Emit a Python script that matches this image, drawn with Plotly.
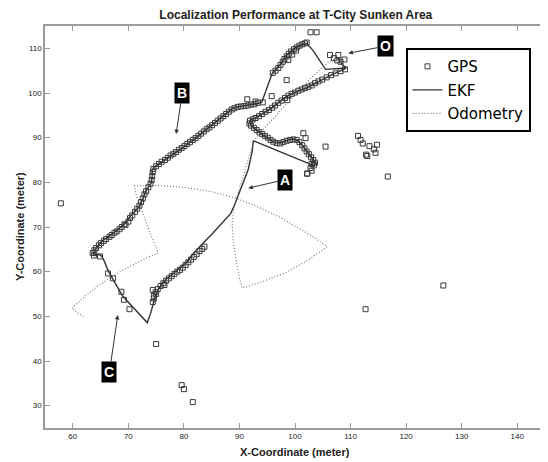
import plotly.graph_objects as go

# ---------------- data ----------------
ekf_x = [107.6, 108.4, 109.1, 106.5, 104.5, 103.3, 102.0, 100.8, 99.8, 99.0, 98.0, 97.2, 96.4, 95.5,
         94.6, 93.8, 92.8, 92.0, 91.8, 92.3, 93.2, 94.0, 95.0, 95.8, 96.6, 97.3, 98.2, 99.0, 99.8,
         100.6, 101.3, 102.0, 102.7, 103.2, 103.7, 103.5, 92.5, 92.3, 92.0, 91.6, 91.1, 90.4, 89.7,
         89.0, 88.4, 87.4, 86.4, 85.2, 84.0, 82.8, 81.6, 80.4, 79.0, 78.0, 76.8, 76.0, 75.2, 74.8,
         74.4, 74.0, 73.4, 72.4, 71.2, 70.0, 69.0, 68.2, 67.3, 66.4, 65.7, 65.2, 64.6, 63.9, 63.7,
         64.0, 64.6, 65.5, 66.5, 67.3, 68.3, 69.0, 69.8, 70.3, 71.2, 72.0, 72.6, 73.2, 74.1, 74.3,
         74.3, 74.6, 75.6, 77.4, 79.0, 80.4, 82.0, 83.4, 85.0, 86.4, 87.6, 88.7, 89.6, 90.6, 92.0,
         93.0, 94.0, 95.9, 96.5, 97.5, 98.3, 99.3, 100.2, 101.2, 102.1, 103.2, 104.3, 105.5, 109.2,
         108.3]
ekf_y = [108.0, 106.8, 105.5, 104.0, 102.7, 101.8, 101.1, 100.6, 100.0, 99.6, 98.8, 98.0, 97.2, 96.4,
         95.7, 95.0, 94.3, 94.0, 93.4, 92.5, 91.5, 90.8, 90.0, 89.3, 88.9, 88.8, 89.2, 89.6, 89.7,
         89.3, 88.3, 87.2, 86.1, 85.2, 84.4, 83.7, 89.3, 87.0, 85.0, 83.0, 81.3, 79.0, 76.9,
         74.6, 73.0, 71.6, 70.2, 68.6, 67.1, 65.6, 63.9, 62.0, 60.6, 59.7, 58.3, 57.3, 55.6, 54.2,
         52.4, 50.6, 48.6, 49.9, 51.6, 53.0, 54.5, 56.2, 58.0, 60.1, 62.3, 63.5, 63.9, 63.6, 64.0,
         65.0, 65.9, 67.1, 67.9, 68.6, 69.6, 70.4, 71.4, 72.4, 73.6, 74.6, 76.3, 78.2, 79.8, 81.5,
         82.8, 83.4, 84.2, 85.7, 87.1, 88.3, 89.8, 91.2, 92.8, 94.2, 95.5, 96.5, 96.9, 97.1, 97.3,
         97.6, 97.9, 104.4, 105.2, 106.6, 108.3, 109.4, 110.25, 110.8, 111.1, 109.6, 107.6, 105.3, 105.6,
         106.6]

odo_x = [108.0, 106.1, 104.3, 102.5, 100.4, 98.3, 96.1, 94.7, 93.4, 92.6, 92.0, 91.3, 90.6, 90.0,
         89.4, 88.9, 88.7, 88.9, 89.4, 89.9, 90.5, 94.0, 98.0, 102.0, 105.8, 103.5, 101.0, 97.1,
         93.0, 89.0, 85.0, 80.0, 75.5, 71.1, 71.4, 72.5, 73.8, 75.4, 72.8, 70.2, 68.2, 66.3,
         64.3, 62.3, 59.8, 61.9]
odo_y = [108.0, 107.0, 105.0, 102.9, 100.2, 97.3, 94.2, 92.5, 90.6, 89.3, 87.0, 84.0, 81.0, 78.5,
         76.2, 73.5, 70.5, 66.5, 62.5, 59.0, 56.3, 57.7, 59.6, 62.3, 65.6, 67.6, 69.5, 72.3,
         74.7, 76.6, 77.9, 78.9, 79.3, 79.2, 77.2, 73.3, 69.0, 64.2, 62.8, 61.1, 59.8, 58.3,
         56.6, 54.6, 51.8, 49.9]

gps_pts = [
    # upper-left edge (B)
    (63.8, 63.6), (63.6, 64.2), (63.9, 64.8), (64.2, 65.3), (64.7, 65.9), (65.1, 66.4), (65.6, 66.9),
    (66.0, 67.3), (66.6, 67.8), (67.0, 68.2), (67.5, 68.7), (67.9, 69.0), (68.4, 69.5), (68.8, 70.0),
    (69.3, 70.6), (69.5, 70.5), (70.0, 71.2), (70.3, 72.0), (70.7, 72.6), (71.2, 73.4), (71.6, 74.1),
    (72.0, 74.8), (72.3, 75.6), (72.6, 76.4), (72.9, 77.3), (73.2, 78.0), (73.6, 78.9), (74.0, 79.7),
    (74.2, 80.5), (74.3, 81.4), (74.4, 82.3), (74.5, 83.0), (75.0, 83.6), (75.5, 84.1), (76.0, 84.6),
    (76.6, 85.0), (77.1, 85.5), (77.6, 86.0), (78.1, 86.4), (78.6, 86.8), (79.1, 87.3), (79.6, 87.7),
    (80.1, 88.1), (80.6, 88.6), (81.1, 89.0), (81.6, 89.5), (82.1, 89.9), (82.6, 90.4), (83.1, 90.9),
    (83.6, 91.4), (84.1, 91.9), (84.6, 92.3), (85.1, 92.8), (85.6, 93.3), (86.1, 93.8), (86.6, 94.3),
    (87.1, 94.8), (87.6, 95.3), (88.1, 95.8), (88.6, 96.3), (89.1, 96.6), (89.7, 96.9), (90.3, 97.0),
    (90.9, 97.1), (91.5, 97.2), (92.1, 97.4), (92.7, 97.5), (93.3, 97.8), (91.4, 98.6), (92.9, 98.1),
    (94.2, 97.9), (95.8, 99.3), (98.6, 98.4), (98.5, 102.9),
    # strand up to the peak
    (96.0, 104.5), (96.5, 105.0), (97.0, 105.6), (97.4, 106.3), (97.8, 107.0), (98.1, 107.6),
    (98.5, 108.2), (98.9, 108.8), (99.3, 109.3), (99.8, 109.8), (100.3, 110.2), (100.8, 110.6),
    (101.3, 110.9), (101.8, 111.1), (102.1, 111.3), (98.8, 107.4), (99.5, 108.6), (100.2, 109.5),
    # lower strand and hook
    (109.0, 105.3), (108.2, 104.9), (107.3, 104.4), (106.5, 104.0), (105.7, 103.5), (104.9, 103.0),
    (104.2, 102.6), (103.6, 102.2), (103.0, 101.7), (102.4, 101.4), (101.8, 101.1), (101.2, 100.8),
    (100.6, 100.5), (100.0, 100.1), (99.4, 99.8), (98.8, 99.4), (98.2, 98.9), (97.6, 98.3),
    (97.0, 97.8), (96.4, 97.2), (95.9, 96.7), (95.3, 96.2), (94.7, 95.8), (94.1, 95.3), (93.5, 94.8),
    (92.9, 94.4), (92.4, 94.1), (91.9, 93.8), (91.8, 93.2), (92.1, 92.7), (92.6, 92.2), (93.1, 91.7),
    (93.6, 91.2), (94.1, 90.8), (94.6, 90.4), (95.1, 90.0), (95.6, 89.5), (96.1, 89.1), (96.7, 88.8),
    (97.3, 88.7), (97.9, 89.0), (98.5, 89.3), (99.1, 89.5), (99.7, 89.6), (100.3, 89.5), (100.8, 89.0),
    (101.3, 88.3), (101.7, 87.6), (102.1, 86.9), (102.5, 86.3), (102.9, 85.6), (103.3, 85.0),
    (103.6, 84.4), (103.4, 83.8), (103.0, 84.1), (102.8, 83.2), (102.2, 82.0),
    # around O
    (106.3, 108.5), (107.8, 108.5), (107.0, 107.8), (108.9, 107.5), (108.2, 107.0), (107.6, 107.3),
    (102.8, 113.6), (103.9, 113.6),
    # lower-right edge
    (74.6, 54.6), (74.9, 55.4), (75.3, 56.1), (75.8, 56.8), (76.3, 57.4), (76.8, 58.0), (77.3, 58.5),
    (77.8, 59.0), (78.3, 59.5), (78.8, 60.0), (79.3, 60.4), (79.8, 60.9), (80.3, 61.5), (80.8, 62.1),
    (81.3, 62.7), (81.8, 63.3), (82.3, 63.9), (82.8, 64.6), (83.3, 65.1), (83.7, 65.6), (75.0, 55.0),
    (76.5, 57.0), (74.4, 55.9), (74.6, 54.0), (74.4, 53.2),
    # lower-left edge (C)
    (66.35, 59.6), (67.25, 58.5), (68.75, 55.5), (69.2, 53.7), (70.2, 51.6), (64.9, 63.4),
    # scattered
    (57.85, 75.3), (75.0, 43.8), (79.6, 34.6), (80.0, 33.7), (81.6, 30.8), (112.7, 51.6),
    (126.7, 56.9), (105.5, 88.0), (101.5, 91.0), (101.9, 89.9), (111.35, 90.4), (111.8, 89.5),
    (112.2, 88.7), (113.4, 88.1), (114.75, 88.4), (114.2, 87.4), (114.5, 86.6), (113.0, 85.9),
    (112.8, 86.2), (116.7, 81.3), (102.2, 81.9), (103.0, 82.6),
]
gps_x = [p[0] for p in gps_pts]
gps_y = [p[1] for p in gps_pts]

x_ticks = [60, 70, 80, 90, 100, 110, 120, 130, 140]
y_ticks = [30, 40, 50, 60, 70, 80, 90, 100, 110]

# labels: (text, box x, box y, arrow head x, arrow head y)
labels = [("O", 116.3, 110.5, 109.6, 108.9),
          ("A", 98.2, 80.6, 91.6, 78.7),
          ("B", 79.7, 100.0, 78.6, 90.8),
          ("C", 66.6, 37.5, 68.1, 50.3)]

# ---------------- figure ----------------
fig = go.Figure()
fig.add_trace(go.Scatter(x=gps_x, y=gps_y, mode="markers", name="GPS", legendgroup="g",
                         marker=dict(symbol="square-open", size=5, color="#3a3a3a",
                                     line=dict(width=1, color="#3a3a3a"))))
fig.add_trace(go.Scatter(x=ekf_x, y=ekf_y, mode="lines", name="EKF", legendgroup="e",
                         line=dict(color="#333333", width=1.4)))
fig.add_trace(go.Scatter(x=odo_x, y=odo_y, mode="lines", name="Odometry", legendgroup="o",
                         line=dict(color="#707070", width=1.1, dash="1px,2px")))

for t, bx, by, hx, hy in labels:
    fig.add_annotation(x=hx, y=hy, ax=bx, ay=by, xref="x", yref="y", axref="x", ayref="y",
                       text="<b>%s</b>" % t, showarrow=True, arrowhead=2, arrowsize=0.9,
                       arrowwidth=1, arrowcolor="#333333", bgcolor="black", borderpad=2,
                       font=dict(family="Liberation Sans, Arial", size=14, color="white"))

font_fam = "Liberation Sans, Arial, sans-serif"
fig.add_annotation(text="<b>X-Coordinate (meter)</b>", xref="paper", yref="paper",
                   x=0.5, y=-0.0597, showarrow=False, yanchor="middle",
                   font=dict(family=font_fam, size=11, color="#222"))
fig.add_annotation(text="<b>Y-Coordinate (meter)</b>", xref="paper", yref="paper",
                   x=-0.0498, y=0.5, showarrow=False, textangle=-90, xanchor="center",
                   font=dict(family=font_fam, size=11, color="#222"))

axis_common = dict(showgrid=False, zeroline=False, showline=True, linecolor="#9a9a9a",
                   linewidth=1.5, mirror="allticks", ticks="inside", ticklen=5,
                   tickcolor="#9a9a9a", tickwidth=1,
                   tickfont=dict(family=font_fam, size=8, color="#222"))
fig.update_xaxes(range=[55, 145], tickvals=x_ticks, ticktext=[str(v) for v in x_ticks],
                 **axis_common)
fig.update_yaxes(range=[25, 115], tickvals=y_ticks, ticktext=[str(v) for v in y_ticks],
                 **axis_common)

# page has an 8px body margin, so the figure is 540x454 drawn at (8, 8)
fig.update_layout(
    width=540, height=454,
    margin=dict(l=37, r=1, t=18, b=34),
    paper_bgcolor="white", plot_bgcolor="white",
    title=dict(text="<b>Localization Performance at T-City Sunken Area</b>",
               x=0.533, xanchor="center", y=0.9846, yanchor="middle",
               font=dict(family=font_fam, size=12, color="#222")),
    showlegend=True,
    legend=dict(x=0.721, y=0.945, xanchor="left", yanchor="top",
                bordercolor="black", borderwidth=2, bgcolor="white",
                font=dict(family="DejaVu Sans, Verdana, sans-serif", size=15, color="black"),
                tracegroupgap=1, traceorder="grouped"),
)

fig.write_html("out.html")
